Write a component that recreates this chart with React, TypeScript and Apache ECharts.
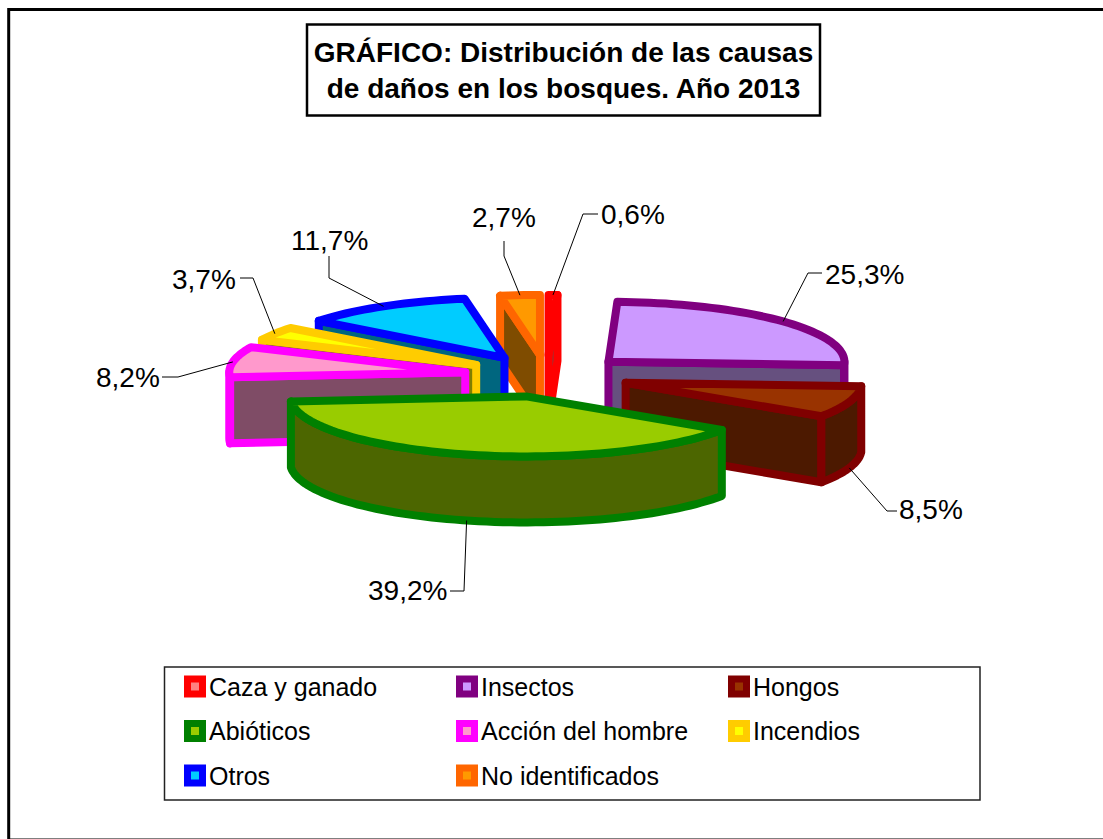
import React, { useEffect, useRef } from "react";
import * as echarts from "echarts";

const titleText = "GRÁFICO: Distribución de las causas\nde daños en los bosques. Año 2013";
const categories = ["Caza y ganado", "Insectos", "Hongos", "Abióticos", "Acción del hombre", "Incendios", "Otros", "No identificados"];
const values = [0.6, 25.3, 8.5, 39.2, 8.2, 3.7, 11.7, 2.7];
const strokeColors = ["#FF0000", "#800080", "#800000", "#008000", "#FF00FF", "#FFCC00", "#0000FF", "#FF6600"];
const topColors = ["#FF8080", "#CC99FF", "#993300", "#99CC00", "#FF99CC", "#FFFF00", "#00CCFF", "#FF9900"];
const sideColors = ["#804040", "#66507F", "#4C1900", "#4C6600", "#7F4C66", "#7F7F00", "#00667F", "#7F4C00"];

// Label layout: elbow point, end of the leader, text anchor
const labelElbows: number[][] = [[583, 214], [808, 273], [887, 511], [464, 591], [178, 377], [253, 278], [329, 278], [504, 256]];
const labelEnds: number[][] = [[598, 214], [822, 273], [897, 511], [450, 591], [162, 377], [240, 278], [329, 256], [504, 241]];
const labelPos: number[][] = [[601, 214], [825, 274], [899, 509], [368, 590], [96, 377], [172, 279], [291, 240], [472, 217]];

const CX = 547, CY = 376, RX = 236, RY = 60, DEPTH = 66, EXPLODE = 83, STROKE = 8, START = 0;
const FONT = "Liberation Sans";

const total = values.reduce((a, b) => a + b, 0);
const rad = (d: number) => (d * Math.PI) / 180;
const slices = (() => {
  let cur = START;
  return values.map((v, i) => {
    const a = cur;
    const b = cur + (v / total) * 360;
    cur = b;
    const m = (a + b) / 2;
    const ax = CX + EXPLODE * Math.sin(rad(m));
    const ay = CY - EXPLODE * Math.cos(rad(m)) * (RY / RX);
    return { i, a, b, m, ax, ay };
  });
})();

const pt = (s: any, deg: number, dz = 0) => [s.ax + RX * Math.sin(rad(deg)), s.ay - RY * Math.cos(rad(deg)) + dz];
const arc = (s: any, from: number, to: number, dz = 0) => {
  const n = Math.max(2, Math.ceil(Math.abs(to - from) / 2));
  const out: number[][] = [];
  for (let k = 0; k <= n; k++) out.push(pt(s, from + ((to - from) * k) / n, dz));
  return out;
};

const renderSlice = (idx: number) => () => {
  const s = slices[idx];
  const style = { stroke: strokeColors[idx], lineWidth: STROKE, lineJoin: "round" as const };
  const children: any[] = [];
  const side = { ...style, fill: sideColors[idx] };
  const face = (deg: number) => {
    const o = pt(s, deg);
    const p = [[s.ax, s.ay], o, [o[0], o[1] + DEPTH], [s.ax, s.ay + DEPTH]];
    children.push({ type: "polygon", shape: { points: p }, style: side });
  };
  if (Math.sin(rad(s.a)) < 0) face(s.a);
  if (Math.sin(rad(s.b)) > 0) face(s.b);
  const wa = Math.max(s.a, 90), wb = Math.min(s.b, 270);
  if (wb > wa) {
    children.push({
      type: "polygon",
      shape: { points: [...arc(s, wa, wb), ...arc(s, wb, wa, DEPTH)] },
      style: side,
    });
  }
  children.push({
    type: "polygon",
    shape: { points: [[s.ax, s.ay], ...arc(s, s.a, s.b)] },
    style: { ...style, fill: topColors[idx] },
  });
  const front = Math.cos(rad(s.m)) < 0;
  const anchor = pt(s, s.m, front ? DEPTH : 0);
  children.push({
    type: "polyline",
    shape: { points: [anchor, labelElbows[idx], labelEnds[idx]] },
    style: { stroke: "#000", lineWidth: 1, fill: "none" },
  });
  children.push({
    type: "text",
    x: labelPos[idx][0],
    y: labelPos[idx][1],
    style: {
      text: values[idx].toFixed(1).replace(".", ",") + "%",
      fill: "#000",
      font: `28px "${FONT}"`,
      textAlign: "left",
      textVerticalAlign: "middle",
    },
  });
  return { type: "group", children };
};

const legendColumns = [[0, 3, 6], [1, 4, 7], [2, 5]];
const legendLefts = [184, 456, 728];

export default function App() {
  const ref = useRef<HTMLDivElement>(null);
  useEffect(() => {
    const chart = echarts.init(ref.current!, undefined, { renderer: "svg" });
    const order = [...slices].sort((p, q) => p.ay - q.ay).map((s) => s.i);
    chart.setOption({
      animation: false,
      backgroundColor: "#fff",
      title: {
        text: titleText,
        left: 556.5,
        top: 24,
        textAlign: "center",
        padding: [10, 7, 10, 7],
        borderWidth: 2.5,
        borderColor: "#000",
        textStyle: { fontFamily: FONT, fontWeight: "bold", fontSize: 28, lineHeight: 36, color: "#000" },
      },
      legend: legendColumns.map((col, c) => ({
        orient: "vertical",
        left: legendLefts[c],
        top: 668,
        padding: 0,
        itemWidth: 15,
        itemHeight: 15,
        itemGap: 7.5,
        icon: "rect",
        selectedMode: false,
        textStyle: { fontFamily: FONT, fontSize: 25, color: "#000", padding: [11, 0, 0, 1.5], lineHeight: 26 },
        data: col.map((i) => ({
          name: categories[i],
          itemStyle: { color: topColors[i], borderColor: strokeColors[i], borderWidth: 7 },
        })),
      })),
      graphic: [
        { type: "rect", shape: { x: 8.7, y: 9.5, width: 1200, height: 830.4 }, style: { fill: "none", stroke: "#000", lineWidth: 3 }, silent: true },
        { type: "rect", shape: { x: 164.5, y: 667, width: 815.5, height: 133 }, style: { fill: "none", stroke: "#222", lineWidth: 1.5 }, silent: true },
      ],
      series: order.map((i) => ({
        type: "custom",
        name: categories[i],
        coordinateSystem: "none",
        clip: false,
        itemStyle: { color: strokeColors[i] },
        data: [[values[i]]],
        renderItem: renderSlice(i),
      })),
    });
    return () => chart.dispose();
  }, []);
  return <div ref={ref} style={{ position: "absolute", left: 0, top: 0, width: 1103, height: 839 }} />;
}
